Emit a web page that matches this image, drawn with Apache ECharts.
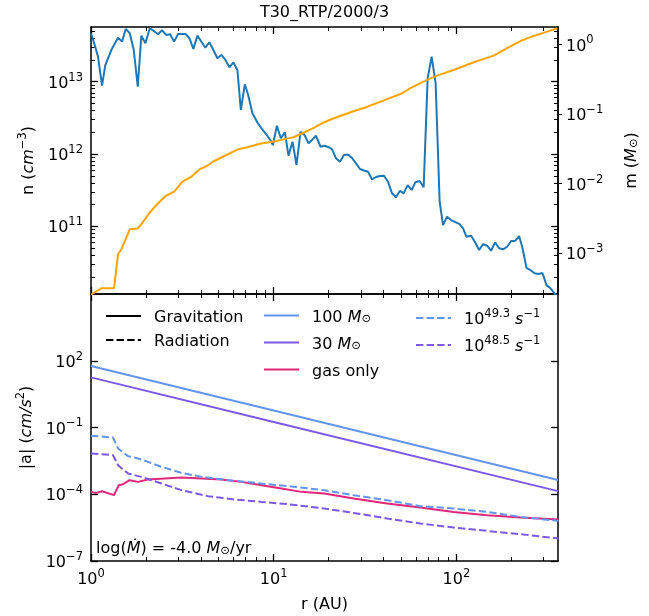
<!DOCTYPE html>
<html><head><meta charset="utf-8">
<script src="https://cdn.jsdelivr.net/npm/echarts@6/dist/echarts.min.js"></script>
<style>html,body{margin:0;padding:0;background:#fff}#c{width:649px;height:616px}</style>
</head><body><div id="c"></div>
<script>
// ---------------- data ----------------
const densR = [1.00,1.048,1.092,1.149,1.198,1.292,1.406,1.479,1.549,1.630,
  1.714,1.803,1.886,1.985,2.098,2.207,2.329,2.449,2.576,2.709,
  2.850,2.998,3.14,3.288,3.459,3.637,3.823,4.021,4.228,4.447,
  4.677,4.919,5.173,5.441,5.722,6.017,6.33,6.61,6.95,7.25,
  7.65,8.19,8.62,9.18,9.57,9.90,10.41,10.95,11.52,12.05,
  12.68,13.33,14.03,14.75,15.51,16.31,17.03,18.05,18.98,19.89,
  20.84,21.92,23.05,24.25,25.51,26.83,28.21,29.68,31.21,32.82,
  34.52,36.31,38.19,40.17,42.25,44.43,46.73,49.15,51.43,54.10,
  56.90,59.61,62.94,66.20,69.62,73.22,77.01,80.99,84.54,88.92,
  93.54,98.75,104.2,108.8,113.4,120.4,126.6,133.2,140.1,147.3,
  154.9,162.9,171.4,180.3,189.6,199.4,209.7,220.6,229.9,241.9,
  254.4,267.6,281.4,295.9,311.3,327.4,344.4,359.8];
const densN = [4.67e13,3.22e13,2.22e13,8.81e12,1.70e13,2.74e13,4.06e13,3.58e13,5.36e13,4.67e13,
  2.74e13,8.53e12,4.33e13,3.40e13,5.48e13,5.03e13,4.53e13,5.14e13,4.43e13,4.53e13,
  3.58e13,4.57e13,4.57e13,4.57e13,3.98e13,2.83e13,4.33e13,3.57e13,2.95e13,3.51e13,
  2.74e13,2.11e13,2.34e13,2.0e13,1.58e13,1.85e13,1.45e13,4.06e12,9.2e12,6.55e12,
  3.66e12,2.66e12,2.22e12,1.83e12,1.56e12,1.33e12,2.46e12,1.65e12,2.0e12,9.47e11,
  1.48e12,7.05e11,2.03e12,1.83e12,1.41e12,1.59e12,1.79e12,1.26e12,1.30e12,1.25e12,
  1.17e12,8.73e11,7.82e11,9.68e11,9.84e11,8.81e11,7.40e11,6.21e11,5.92e11,5.69e11,
  4.47e11,4.81e11,4.96e11,5.01e11,4.14e11,2.86e11,2.52e11,3.10e11,2.86e11,3.72e11,
  3.18e11,4.06e11,4.24e11,3.46e11,1.11e13,2.22e13,9.5e12,2.19e11,1.04e11,1.36e11,
  1.22e11,1.14e11,1.07e11,9.38e10,7.18e10,7.41e10,6.01e10,4.70e10,5.69e10,5.39e10,
  4.60e10,6.01e10,4.97e10,4.81e10,5.22e10,6.27e10,6.27e10,7.35e10,5.06e10,2.67e10,
  2.49e10,2.24e10,2.19e10,2.26e10,1.54e10,1.39e10,1.18e10,1.05e10];

const massR = [1.00,1.139,1.337,1.406,1.469,1.632,1.798,1.891,2.101,2.279,2.560,2.857,3.152,3.532,3.947,
  4.322,4.697,5.472,6.333,7.251,8.52,9.87,11.45,12.84,14.33,16.36,18.37,20.84,26.83,31.72,40.83,
  50.6,55.97,69.1,78.4,96.6,124.4,160.1,189.6,224.2,265.2,314.1,357.6];
const massM = [2.55e-4,3.14e-4,3.14e-4,9.67e-4,1.15e-3,2.22e-3,2.27e-3,2.64e-3,3.86e-3,4.94e-3,6.65e-3,7.67e-3,1.06e-2,1.25e-2,1.62e-2,
  1.81e-2,2.10e-2,2.56e-2,3.09e-2,3.37e-2,3.77e-2,3.99e-2,4.36e-2,4.64e-2,5.30e-2,6.21e-2,7.37e-2,8.50e-2,0.108,0.124,0.160,
  0.199,0.235,0.309,0.356,0.430,0.555,0.690,0.882,1.12,1.325,1.527,1.71];

const gravR = [1, 10, 360];
const grav100 = [58, 0.586, 4.4e-4];
const grav30 = [17.9, 0.178, 1.38e-4];

const rad49R = [1.00,1.32,1.406,1.595,1.809,2.053,2.428,3.125,4.022,5.633,7.89,12.01,18.91,27.37,41.72,63.5,96.6,147.3,224.2,362];
const rad49 = [0.0423,0.0358,0.01146,5.16e-3,4.07e-3,2.86e-3,1.71e-3,9.16e-4,6.05e-4,4.30e-4,3.25e-4,2.31e-4,1.52e-4,9.09e-5,5.42e-5,2.91e-5,2.29e-5,1.61e-5,9.6e-6,6.3e-6];
const rad48R = [1.00,1.32,1.406,1.595,1.886,2.428,3.125,4.377,6.13,8.58,12.01,18.91,27.37,41.72,63.5,96.6,147.3,224.2,362];
const rad48 = [6.82e-3,5.73e-3,2.03e-3,8.6e-4,6.05e-4,3.05e-4,1.53e-4,8.2e-5,5.82e-5,4.54e-5,3.58e-5,2.29e-5,1.45e-5,8.1e-6,4.84e-6,3.2e-6,2.25e-6,1.6e-6,1.03e-6];
const gasR = [1.00,1.069,1.149,1.337,1.419,1.497,1.629,1.809,2.053,2.534,3.125,4.022,5.176,6.66,8.58,11.03,14.2,18.91,27.37,41.72,63.5,96.6,147.3,224.2,362];
const gasA = [1.28e-4,1.15e-4,1.37e-4,9.1e-5,2.56e-4,2.84e-4,4.30e-4,3.6e-4,4.62e-4,5.13e-4,5.69e-4,5.13e-4,4.62e-4,3.6e-4,2.56e-4,1.82e-4,1.28e-4,1.08e-4,6.46e-5,3.85e-5,2.54e-5,1.61e-5,1.15e-5,9.0e-6,7.3e-6];

const xMajorTicks = [1, 10, 100];
const nMajorTicks = [1e11, 1e12, 1e13];
const mMajorTicks = [1e-3, 1e-2, 1e-1, 1];
const aMajorTicks = [1e-7, 1e-4, 1e-1, 1e2];

const X_MIN = 1, X_MAX = 360;
const N_MIN = 1.16e10, N_MAX = 5.7e13;
const M_MIN = 2.6e-4, M_MAX = 1.78;
const A_MIN = 1e-7, A_MAX = 1e5;

// ---------------- helpers ----------------
const FONT = 'DejaVu Sans';
const zip = (a, b) => a.map((v, i) => [v, b[i]]);
function minors(lo, hi) {
  const out = [];
  for (let e = -9; e <= 14; e++) for (let k = 2; k <= 9; k++) {
    const v = k * Math.pow(10, e);
    if (v > lo * 1.0001 && v < hi * 0.9999) out.push(v);
  }
  return out;
}
const rich = {
  t: {fontFamily: FONT, fontSize: 16, lineHeight: 20, verticalAlign: 'bottom', color: '#000'},
  b: {fontFamily: FONT, fontSize: 16, lineHeight: 20, verticalAlign: 'bottom', color: '#000'},
  i: {fontFamily: FONT, fontSize: 16, lineHeight: 20, verticalAlign: 'bottom', fontStyle: 'italic', color: '#000'},
  s: {fontFamily: FONT, fontSize: 11.5, lineHeight: 13, verticalAlign: 'top', color: '#000'},
  u: {fontFamily: FONT, fontSize: 11.5, lineHeight: 12, verticalAlign: 'bottom', color: '#000'}
};
function sci(v) {
  const e = Math.round(Math.log10(v));
  return '{b|10}{s|' + (e < 0 ? '\u2212' + (-e) : e) + '}';
}
const AXL = {show: true, onZero: false, lineStyle: {color: '#000', width: 1.5}};
function axis(o) {
  return {
    type: 'log', logBase: 10, gridIndex: o.grid, position: o.pos, min: o.min, max: o.max,
    axisLine: o.line === false ? {show: false, onZero: false} : AXL,
    axisTick: {show: true, inside: o.inside !== false, length: o.len, customValues: o.ticks,
               lineStyle: {color: '#000', width: o.len > 5 ? 1.3 : 1}},
    axisLabel: o.labels ? {show: true, customValues: o.labels, formatter: sci, margin: o.margin || 8, rich: rich} : {show: false},
    splitLine: {show: false}, minorTick: {show: false}, minorSplitLine: {show: false},
    name: o.name || '', nameLocation: 'middle', nameGap: o.nameGap || 0, nameRotate: o.nameRotate,
    nameTextStyle: {rich: rich, fontFamily: FONT, fontSize: 16, color: '#000'},
    axisPointer: {show: false}, silent: true
  };
}
const xMin = minors(X_MIN, X_MAX), nMin = minors(N_MIN, N_MAX);

const xAxes = [
  axis({grid: 0, pos: 'bottom', min: X_MIN, max: X_MAX, ticks: xMajorTicks, len: 7}),
  axis({grid: 0, pos: 'bottom', min: X_MIN, max: X_MAX, ticks: xMin, len: 4, line: false}),
  axis({grid: 0, pos: 'top', min: X_MIN, max: X_MAX, ticks: xMajorTicks, len: 7}),
  axis({grid: 0, pos: 'top', min: X_MIN, max: X_MAX, ticks: xMin, len: 4, line: false}),
  axis({grid: 1, pos: 'bottom', min: X_MIN, max: X_MAX, ticks: xMajorTicks, len: 7, labels: xMajorTicks, margin: 7,
        name: '{t|r (AU)}', nameGap: 32}),
  axis({grid: 1, pos: 'bottom', min: X_MIN, max: X_MAX, ticks: xMin, len: 4, line: false}),
  axis({grid: 1, pos: 'top', min: X_MIN, max: X_MAX, ticks: xMajorTicks, len: 7}),
  axis({grid: 1, pos: 'top', min: X_MIN, max: X_MAX, ticks: xMin, len: 4, line: false})
];
const yAxes = [
  axis({grid: 0, pos: 'left', min: N_MIN, max: N_MAX, ticks: nMajorTicks, len: 7, labels: nMajorTicks,
        name: '{t|n (}{i|cm}{s|\u22123}{t|)}', nameGap: 52, nameRotate: 90}),
  axis({grid: 0, pos: 'left', min: N_MIN, max: N_MAX, ticks: nMin, len: 4, line: false}),
  axis({grid: 0, pos: 'right', min: N_MIN, max: N_MAX, ticks: nMajorTicks, len: 7}),
  axis({grid: 0, pos: 'right', min: N_MIN, max: N_MAX, ticks: nMin, len: 4, line: false}),
  axis({grid: 0, pos: 'right', min: M_MIN, max: M_MAX, ticks: mMajorTicks, len: 4, inside: false, labels: mMajorTicks,
        name: '{t|m (}{i|M}{u|\u2299}{t|)}', nameGap: 62, nameRotate: 90}),
  axis({grid: 1, pos: 'left', min: A_MIN, max: A_MAX, ticks: aMajorTicks, len: 7, labels: aMajorTicks,
        name: '{t||a| (}{i|cm/s}{s|2}{t|)}', nameGap: 52, nameRotate: 90}),
  axis({grid: 1, pos: 'right', min: A_MIN, max: A_MAX, ticks: aMajorTicks, len: 7})
];

const LB = '#6495ED', PU = '#7B5BE6', PK = '#E0287A';
const DASH = [7.4, 3.2];
function ln(name, xi, yi, data, color, dashed, z) {
  return {name, type: 'line', xAxisIndex: xi, yAxisIndex: yi, data, symbol: 'none', showSymbol: false,
    lineStyle: {color, width: 2, type: dashed ? DASH : 'solid'}, itemStyle: {color},
    clip: true, z: z || 2, silent: true, animation: false};
}
const series = [
  ln('n', 0, 0, zip(densR, densN), '#1f77b4', false, 2),
  ln('m', 0, 4, zip(massR, massM), '#FFA500', false, 3),
  ln('g100', 4, 5, zip(gravR, grav100), LB, false),
  ln('g30', 4, 5, zip(gravR, grav30), PU, false),
  ln('gas', 4, 5, zip(gasR, gasA), PK, false),
  ln('r49', 4, 5, zip(rad49R, rad49), LB, true, 3),
  ln('r48', 4, 5, zip(rad48R, rad48), PU, true, 3),
  ln('Gravitation', 4, 5, [], '#000', false),
  ln('Radiation', 4, 5, [], '#000', true)
];
const legendNames = {
  'Gravitation': '{t|Gravitation}', 'Radiation': '{t|Radiation}',
  'g100': '{t|100 }{i|M}{u|\u2299}', 'g30': '{t|30 }{i|M}{u|\u2299}', 'gas': '{t|gas only}',
  'r49': '{t|10}{s|49.3}{t| }{i|s}{s|\u22121}', 'r48': '{t|10}{s|48.5}{t| }{i|s}{s|\u22121}'
};
function legend(data, left, top, gap) {
  return {data, left, top, orient: 'vertical', padding: 0, itemGap: gap, itemWidth: 35, itemHeight: 14,
    selectedMode: false, formatter: n => legendNames[n],
    itemStyle: {opacity: 0, borderWidth: 0},
    textStyle: {rich, fontFamily: FONT, fontSize: 16, color: '#000', padding: [0, 0, 0, 8]}};
}

const chart = echarts.init(document.getElementById('c'), null, {renderer: 'canvas'});
chart.setOption({
  animation: false,
  backgroundColor: '#fff',
  title: [
    {text: 'T30_RTP/2000/3', left: 'center', top: 5, padding: 0,
     textStyle: {fontFamily: FONT, fontSize: 16, fontWeight: 'normal', color: '#000'}},
    {text: '{t|log(}{i|\u1E40}{t|) = -4.0 }{i|M}{u|\u2299}{t|/yr}', left: 96, top: 537, padding: 0,
     textStyle: {rich, fontFamily: FONT, fontSize: 16, fontWeight: 'normal', color: '#000'}}
  ],
  grid: [
    {left: 91, top: 27, width: 467, height: 267, outerBoundsMode: 'none', containLabel: false},
    {left: 91, top: 294, width: 467, height: 267, outerBoundsMode: 'none', containLabel: false}
  ],
  legend: [
    legend(['Gravitation', 'Radiation'], 105, 310, 8),
    legend(['g100', 'g30', 'gas'], 263, 309.5, 11),
    legend(['r49', 'r48'], 415, 308, 7)
  ],
  tooltip: {show: false},
  xAxis: xAxes,
  yAxis: yAxes,
  series
});
</script>
</body></html>
